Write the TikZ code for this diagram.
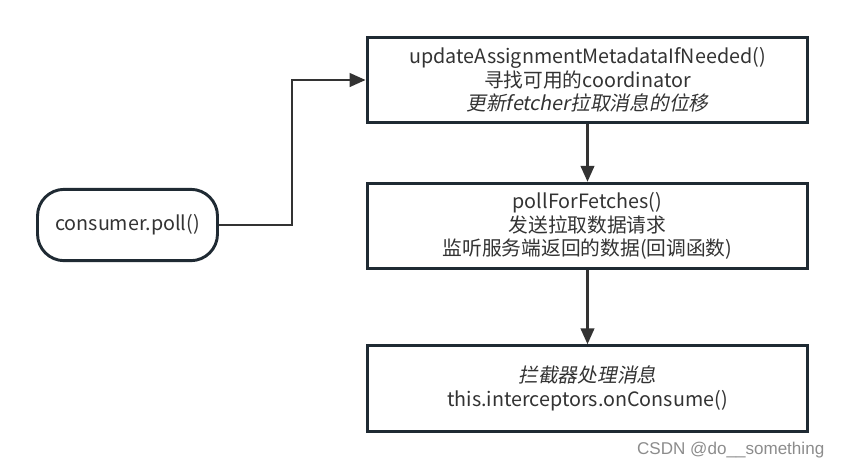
\documentclass[tikz,border=0pt]{standalone}
\usepackage{fontspec}
\setmainfont{Noto Sans CJK SC}
\newfontfamily\cjkit[FakeSlant=0.2]{Noto Sans CJK SC}
\newfontfamily\wmfont{Liberation Sans}
\usetikzlibrary{arrows.meta,positioning}
\definecolor{boxline}{HTML}{1F2A33}
\definecolor{arrline}{HTML}{333333}
\definecolor{txt}{HTML}{333333}
\tikzset{
  procbox/.style={draw=boxline, line width=2.2pt, fill=white, minimum width=330.5pt, minimum height=64pt,
    align=center, text=txt, font=\fontsize{14.8pt}{17.5pt}\selectfont, inner sep=0pt},
  startbox/.style={draw=boxline, line width=2.2pt, fill=white, rounded corners=20pt, minimum width=135pt,
    minimum height=53.5pt, align=center, text=txt, font=\fontsize{14.8pt}{17.5pt}\selectfont, inner sep=0pt},
  conn/.style={draw=arrline, line width=2.2pt, -{Triangle[length=12pt,width=10pt]}}
}
\begin{document}
\begin{tikzpicture}[x=0.75pt,y=-0.75pt]
\useasboundingbox (0,0) rectangle (844,469);
\node[procbox] (upd) at (587.5,80) {updateAssignmentMetadataIfNeeded()\\寻找可用的coordinator\\{\cjkit 更新fetcher拉取消息的位移}};
\node[procbox] (poll) at (587.5,226) {pollForFetches()\\发送拉取数据请求\\监听服务端返回的数据(回调函数)};
\node[procbox] (intc) at (587.5,388.5) {{\cjkit 拦截器处理消息}\\this.interceptors.onConsume()};
\node[startbox] (cons) at (127.5,225) {consumer.poll()};
\coordinate (bend1) at (292,225);
\coordinate (bend2) at (292,80);
\draw[conn] (cons.east) -- (bend1) -- (bend2) -- (upd.west);
\draw[conn] (upd.south) -- (poll.north);
\draw[conn] (poll.south) -- (intc.north);
\node[text=black!45, font=\wmfont\fontsize{12.8pt}{15pt}\selectfont, anchor=east] (wm) at (829,450) {CSDN @do\_\_something};
\end{tikzpicture}
\end{document}
